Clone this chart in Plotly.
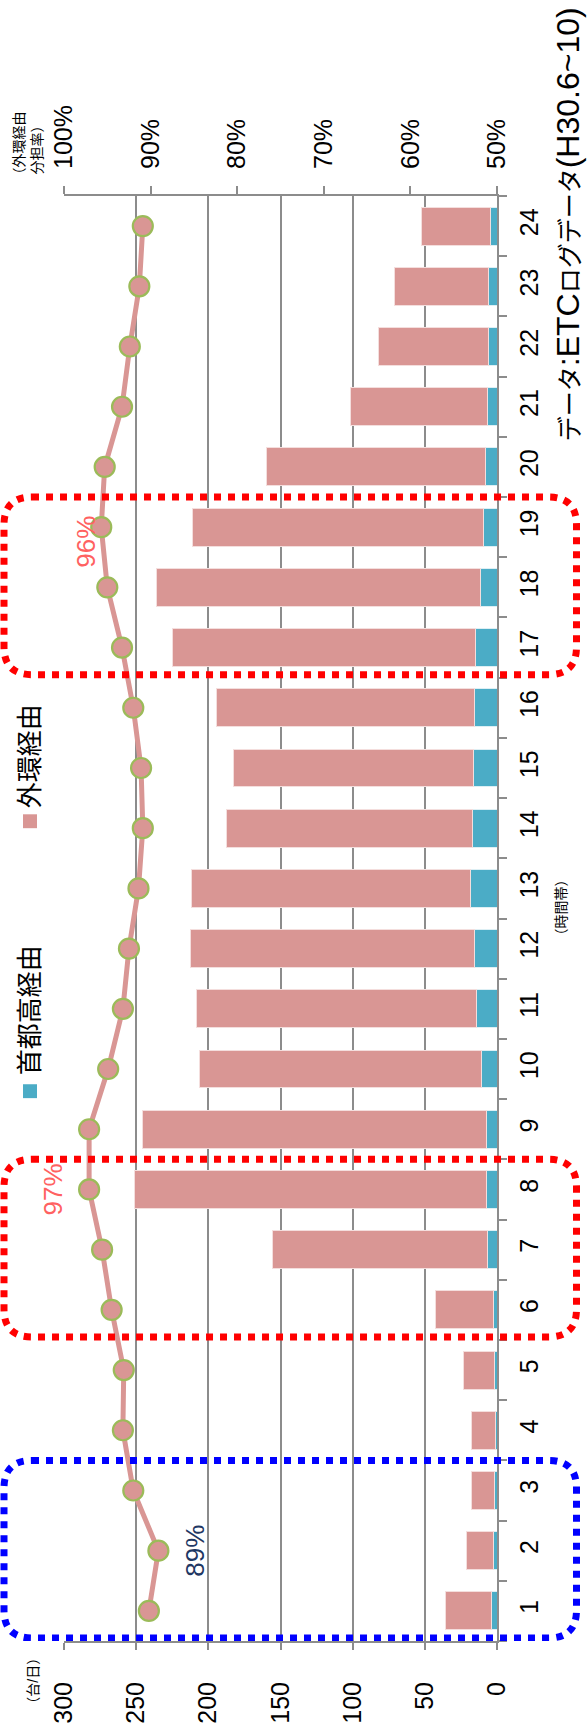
import plotly.graph_objects as go

# ---------------- data ----------------
hours = list(range(1, 25))
shutoko = [3.6, 2.3, 1.4, 1.0, 1.5, 2.3, 6.7, 7.3, 7.3, 10.4, 14.3, 15.8,
           18.4, 17.1, 16.4, 15.6, 15.1, 11.7, 9.3, 7.8, 6.7, 6.2, 6.2, 4.7]
gaikan = [32.0, 18.7, 16.5, 16.4, 21.6, 40.5, 148.8, 243.7, 238.0, 195.7, 193.8, 196.8,
          193.6, 170.0, 166.3, 178.5, 209.7, 224.0, 202.0, 152.1, 94.5, 75.8, 64.9, 47.7]
share = [90.2, 89.1, 92.0, 93.2, 93.1, 94.5, 95.6, 97.1, 97.1, 94.9, 93.2, 92.5,
         91.4, 90.9, 91.1, 92.0, 93.3, 95.0, 95.7, 95.3, 93.3, 92.4, 91.3, 90.9]
count_ticks = [0, 50, 100, 150, 200, 250, 300]
share_ticks = [50, 60, 70, 80, 90, 100]
share_labels = ["50%", "60%", "70%", "80%", "90%", "100%"]
hour_labels = [str(h) for h in hours]
highlight_blue = (1, 3)
highlight_red = [(6, 8), (17, 19)]

# ---------------- layout geometry ----------------
W, H = 587, 1736
L, R, T, B = 64, 90, 196, 84
PW, PH = W - L - R, H - T - B
HOUR_PX = PH / 24

FONT = "Liberation Sans, Arial, Noto Sans CJK JP, sans-serif"
PINK = "#D99694"
BLUE = "#4BACC6"
GRID = "#8C8C8C"


def px_x(px):
    return (px - L) / PW


def px_y(py):
    return 1 - (py - T) / PH


fig = go.Figure()
fig.add_trace(go.Bar(y=hours, x=shutoko, orientation="h", name="首都高経由",
                     marker=dict(color=BLUE, line=dict(color="#DDEFF4", width=1))))
fig.add_trace(go.Bar(y=hours, x=gaikan, orientation="h", name="外環経由",
                     marker=dict(color=PINK, line=dict(color="#F4DEDD", width=1))))
fig.add_trace(go.Scatter(y=hours, x=share, xaxis="x2", mode="lines+markers",
                         line=dict(color=PINK, width=5),
                         marker=dict(size=20, color=PINK, line=dict(color="#9BBB59", width=2.2)),
                         showlegend=False))


def rounded_box(h_lo, h_hi, color):
    x0, x1 = px_x(4), px_x(576.5)
    y0, y1 = h_lo - 0.45, h_hi + 0.5
    rx, ry = 28 / PW, 28 / HOUR_PX
    path = (f"M {x0+rx},{y1} L {x1-rx},{y1} Q {x1},{y1} {x1},{y1-ry} "
            f"L {x1},{y0+ry} Q {x1},{y0} {x1-rx},{y0} "
            f"L {x0+rx},{y0} Q {x0},{y0} {x0},{y0+ry} "
            f"L {x0},{y1-ry} Q {x0},{y1} {x0+rx},{y1} Z")
    return dict(type="path", path=path, xref="paper", yref="y", layer="above",
                line=dict(color=color, width=7, dash="7px,7px"))


shapes = [rounded_box(*highlight_blue, "#0000FF")]
for lo, hi in highlight_red:
    shapes.append(rounded_box(lo, hi, "#FF0000"))

# legend squares
for color, (ytop, ybot) in [(BLUE, (1091, 1105)), (PINK, (819, 833))]:
    shapes.append(dict(type="rect", xref="paper", yref="paper",
                       x0=px_x(23), x1=px_x(37), y0=px_y(ybot), y1=px_y(ytop),
                       fillcolor=color, line=dict(width=0)))

annotations = []


def rot_text(text, px, py, size, color="#000000", yref="paper", yval=None):
    annotations.append(dict(text=text, xref="paper", yref=yref,
                            x=px_x(px), y=(px_y(py) if yval is None else yval),
                            textangle=-90, showarrow=False,
                            xanchor="center", yanchor="middle",
                            font=dict(size=size, color=color, family=FONT)))


rot_text("首都高経由", 29.5, 1017, 26)
rot_text("外環経由", 29.5, 761, 26)
rot_text("（外環経由<br>分担率）", 28, 146, 14)
rot_text("（台/日）", 33, 1692, 14)
rot_text("（時間帯）", 561, 913, 14)
rot_text("89%", 195, 0, 26, "#1F3864", yref="y", yval=2)
rot_text("97%", 53, 0, 26, "#FF6161", yref="y", yval=8)
rot_text("96%", 86.5, 0, 26, "#FF6161", yref="y", yval=18.75)
rot_text("<span style='font-size:25px'>データ</span>:ETC"
         "<span style='font-size:25px'>ログデータ</span>(H30.6~10)",
         567.5, 225, 32)

TICKFONT = dict(size=25, family=FONT, color="#000000")
HOURFONT = dict(size=25, family="Arial, Liberation Sans", color="#000000")

fig.update_layout(
    width=W, height=H,
    margin=dict(l=L, r=R, t=T, b=B, pad=0),
    paper_bgcolor="white", plot_bgcolor="white",
    barmode="stack", bargap=0.37,
    showlegend=False,
    font=dict(family=FONT, color="#000000", size=25),
    xaxis=dict(range=[300, 0], tickmode="array", tickvals=count_ticks,
               ticktext=[str(v) for v in count_ticks], tickangle=-90,
               ticks="outside", ticklen=7, tickcolor=GRID, tickwidth=1.5,
               showgrid=True, gridcolor=GRID, gridwidth=1.5, zeroline=False,
               showline=True, linecolor=GRID, linewidth=2,
               ticklabelstandoff=22, tickfont=TICKFONT),
    xaxis2=dict(range=[100, 50], overlaying="x", side="top", tickmode="array",
                tickvals=share_ticks, ticktext=share_labels,
                tickangle=-90, ticks="outside", ticklen=8,
                tickcolor=GRID, tickwidth=1.5, showgrid=False, zeroline=False,
                showline=True, linecolor=GRID, linewidth=2,
                ticklabelstandoff=12, tickfont=TICKFONT),
    yaxis=dict(range=[0.5, 24.5], side="right", tickmode="array", tickvals=hours,
               ticktext=hour_labels, tickangle=-90,
               ticks="", showgrid=False, zeroline=False,
               showline=True, linecolor=GRID, linewidth=2,
               minor=dict(tickmode="linear", tick0=0.5, dtick=1, ticks="outside",
                          ticklen=8, tickcolor=GRID, tickwidth=1.5, showgrid=False),
               ticklabelstandoff=9, tickfont=HOURFONT),
    shapes=shapes,
    annotations=annotations,
)

fig.write_html("out.html")
